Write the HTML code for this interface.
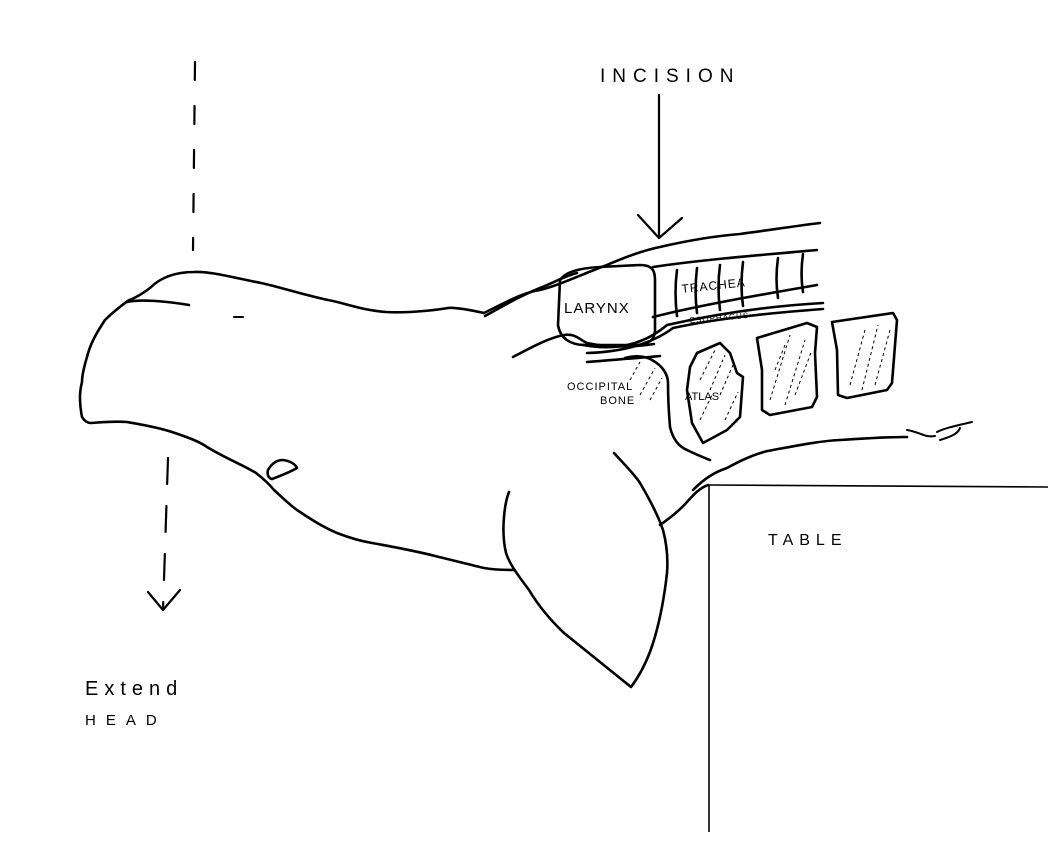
<!DOCTYPE html>
<html><head><meta charset="utf-8"><style>
html,body{margin:0;padding:0;background:#fff;}
svg{display:block;}
text{font-family:"Liberation Sans",sans-serif;fill:#000;}
</style></head><body>
<svg width="1048" height="841" viewBox="0 0 1048 841" xmlns="http://www.w3.org/2000/svg">
<g fill="none" stroke="#000" stroke-width="2.6" stroke-linecap="round" stroke-linejoin="round">
<path d="M195 62 L193 250" stroke-dasharray="18 26" stroke-width="2.2"/>
<path d="M168 458 L163 610" stroke-dasharray="26 22" stroke-width="2.2"/>
<path d="M148 592 L163 610 L180 590" stroke-width="2.2"/>
<path d="M659 95 L659 238" stroke-width="2.2"/>
<path d="M638 215 L659 238 L682 218" stroke-width="2.2"/>
<path d="M484 313 C470 310 455 307 448 308 C430 311 405 313 386 312 C360 310 345 303 328 300 C300 294 280 287 261 283 C235 278 210 271 194 272 C175 272 160 278 150 288 C138 297 130 300 129 300 C118 308 110 315 105 320 C95 335 90 345 87 357 C84 367 82 375 82 382 C80 390 80 395 80 397 C80 405 81 412 82 417 C85 422 88 423 91 423 C105 422 115 421 127 422 C145 425 160 428 172 432 C190 438 200 442 207 447 C225 458 245 466 256 473 C265 480 270 485 274 490 C285 500 290 505 297 510 C315 522 325 528 337 533 C350 538 360 541 372 543 C400 548 420 552 439 557 C460 562 475 566 484 568 C495 570 505 570 515 570"/>
<path d="M127 302 C140 299 165 301 189 305"/>
<path d="M234 317 L243 317" stroke-width="2"/>
<path d="M268 470 C272 463 277 460 283 460 C290 461 295 464 297 468 C290 472 280 476 272 479 C268 478 267 474 268 470 Z"/>
<path d="M614 453 C625 465 635 475 640 483 C650 500 658 515 663 530 C667 545 668 560 667 573 C664 600 660 620 654 640 C648 660 640 675 631 687 C610 670 585 650 564 633 C545 615 535 600 529 590 C518 575 510 565 506 553 C503 540 503 528 504 517 C505 505 507 497 509 492"/>
<path d="M660 525 C670 518 680 510 687 502 C695 493 700 488 708 485"/>
<path d="M484 313 C510 300 525 292 540 290 C560 285 580 275 607 265 C630 255 645 250 660 247 C690 240 715 236 740 234 C770 230 795 226 820 223"/>
<path d="M485 316 C505 305 520 296 540 288 C555 282 565 276 577 273"/>
<path d="M653 267 C700 260 760 255 817 250"/>
<path d="M653 317 C700 305 760 295 817 285"/>
<path d="M513 357 C530 348 548 338 564 335 C575 333 580 340 587 343 C610 348 635 347 654 344"/>
<path d="M583 345 C610 350 640 348 667 325 C720 313 770 306 823 303"/>
<path d="M587 353 C620 352 650 345 673 328 C720 318 770 313 823 309"/>
<path d="M587 362 C610 360 640 358 660 356"/>
<path d="M560 280 C565 272 580 268 600 267 L640 265 C652 265 655 270 655 280 L655 330 C655 340 648 345 636 345 L585 345 C570 345 560 338 558 325 Z"/>
<path d="M677 270 C675 285 675 300 677 316"/>
<path d="M697 268 C695 285 695 298 697 313"/>
<path d="M720 265 C718 280 718 295 720 310"/>
<path d="M743 262 C741 278 741 292 743 306"/>
<path d="M778 258 C776 272 776 285 778 298"/>
<path d="M803 254 C801 268 801 280 803 292"/>
<path d="M625 358 C635 355 645 356 652 360 C663 366 668 375 668 383 C668 400 669 415 670 427 C673 440 680 447 687 450 C697 455 705 458 710 460"/>
<path d="M697 353 L720 343 L730 353 L737 373 L743 377 L740 417 L727 430 L703 443 L692 423 L687 390 L690 367 Z"/>
<path d="M757 338 L807 323 L817 327 L815 353 L817 397 L812 407 L770 415 L762 410 L762 370 Z"/>
<path d="M832 322 L893 313 L897 320 L892 383 L887 390 L847 398 L838 395 L837 350 Z"/>
<path d="M693 490 C705 478 715 472 727 468 C745 458 760 452 773 450 C800 445 820 441 840 440 C870 438 890 437 907 437"/>
<path d="M907 430 C920 432 925 438 935 436 M937 432 C945 428 955 426 972 422 M940 440 C950 437 958 434 960 428" stroke-width="2"/>
</g>
<g stroke="#000" stroke-width="1" stroke-dasharray="3 3" fill="none">
<path d="M700 380 L715 350 M710 390 L725 355 M720 395 L733 365 M700 420 L712 395 M725 420 L738 392"/>
<path d="M770 400 L790 335 M785 405 L805 340 M795 395 L812 350 M775 370 L785 345"/>
<path d="M850 385 L865 330 M862 390 L878 325 M875 385 L890 330"/>
<path d="M630 380 L640 362 M640 395 L655 368 M650 400 L662 378"/>
</g>
<path d="M709 485 L709 832" stroke="#000" stroke-width="1.6" fill="none"/>
<path d="M709 485 L1048 487" stroke="#000" stroke-width="1.6" fill="none"/>
<text x="600" y="82" font-size="19" letter-spacing="7">INCISION</text>
<text x="85" y="695" font-size="20" letter-spacing="6">Extend</text>
<text x="85" y="725" font-size="15" letter-spacing="10">HEAD</text>
<text x="768" y="545" font-size="16" letter-spacing="6">TABLE</text>
<text x="564" y="313" font-size="15" letter-spacing="1">LARYNX</text>
<text x="682" y="293" font-size="12" letter-spacing="1" transform="rotate(-6 682 293)">TRACHEA</text>
<text x="690" y="323" font-size="8" letter-spacing="1" transform="rotate(-5 690 323)">ESOPHAGUS</text>
<text x="567" y="390" font-size="11" letter-spacing="1">OCCIPITAL</text>
<text x="600" y="404" font-size="11" letter-spacing="1">BONE</text>
<text x="685" y="400" font-size="11" letter-spacing="0">ATLAS</text>
</svg>
</body></html>
